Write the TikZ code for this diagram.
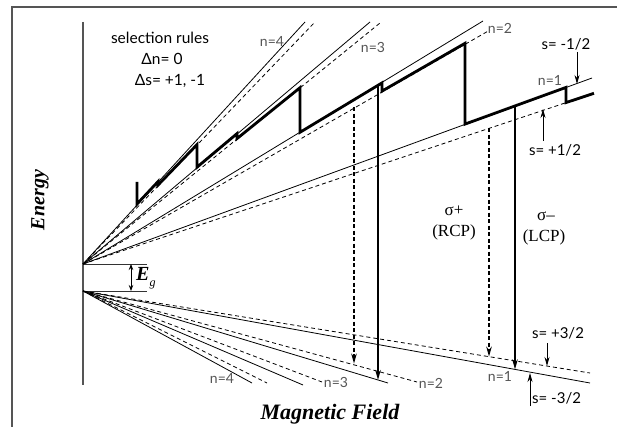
\documentclass[tikz,border=0pt]{standalone}
\usepackage{fontspec}
\setmainfont{Liberation Serif}
\newfontfamily\labfont{Lato}
\usetikzlibrary{arrows.meta}
\definecolor{framegray}{HTML}{555555}
\definecolor{labgray}{HTML}{555555}
\begin{document}
\begin{tikzpicture}[x=1pt,y=-1pt,
  frame/.style={draw=framegray,line width=1.2pt},
  lvl/.style={line width=0.8pt},
  lvldash/.style={line width=0.8pt,dash pattern=on 4pt off 3pt},
  fermi/.style={line width=2.8pt,miter limit=3},
  trans/.style={line width=1.8pt,-{Stealth[length=10pt,width=5.5pt]}},
  transdash/.style={line width=1.8pt,dash pattern=on 4pt off 2.5pt,-{Stealth[length=10pt,width=5.5pt]}},
  pointer/.style={line width=0.8pt,-{Stealth[length=9pt,width=5pt]}},
  rule/.style={font=\labfont\fontsize{15.5}{17}\selectfont,inner sep=0pt},
  nlab/.style={font=\labfont\fontsize{14}{16}\selectfont,text=labgray,inner sep=0pt},
  slab/.style={font=\labfont\fontsize{15}{16}\selectfont,inner sep=0pt},
  pol/.style={font=\fontsize{17}{19}\selectfont,inner sep=0pt},
  axlab/.style={font=\bfseries\itshape\fontsize{20}{22}\selectfont,inner sep=0pt}
]
\useasboundingbox (0,0) rectangle (617,427);
% frame
\draw[frame] (12,427) -- (12,7) -- (617,7);
% energy axis
\coordinate (axtop) at (83,22);
\coordinate (axbot) at (83,385);
\draw[frame] (axtop) -- (axbot);
% band edges
\coordinate (C) at (83,264);
\coordinate (V) at (83,291);
\coordinate (Ce) at (147,264);
\coordinate (Ve) at (147,291);
\draw[line width=1pt,draw=black!80] (C) -- (Ce);
\draw[line width=1pt,draw=black!80] (V) -- (Ve);
\coordinate (gt) at (131,264);
\coordinate (gb) at (131,291);
\draw[line width=0.8pt,{Stealth[length=6pt,width=4.5pt]}-{Stealth[length=6pt,width=4.5pt]}] (gt) -- (gb);
\node[anchor=west,inner sep=0pt,font=\bfseries\itshape\fontsize{20}{22}\selectfont] (Eg) at (136,278)
  {E\raisebox{-6pt}{\mdseries\fontsize{12}{13}\selectfont g}};
% conduction band Landau levels
\coordinate (u1s) at (592,78);
\coordinate (u1d) at (565,103);
\coordinate (u2s) at (483,21);
\coordinate (u2d) at (490,30);
\coordinate (u3s) at (370,22);
\coordinate (u3d) at (380,23);
\coordinate (u4s) at (305,22);
\coordinate (u4d) at (315,22);
\foreach \p in {u1s,u2s,u3s,u4s} \draw[lvl] (C) -- (\p);
\foreach \p in {u1d,u2d,u3d,u4d} \draw[lvldash] (C) -- (\p);
% valence band Landau levels
\coordinate (l1d) at (590,373);
\coordinate (l1s) at (590,383);
\coordinate (l2d) at (417,382);
\coordinate (l2s) at (388,383);
\coordinate (l3d) at (322,382);
\coordinate (l3s) at (303,385);
\coordinate (l4d) at (267,383);
\coordinate (l4s) at (252,383);
\foreach \p in {l1s,l2s,l3s,l4s} \draw[lvl] (V) -- (\p);
\foreach \p in {l1d,l2d,l3d,l4d} \draw[lvldash] (V) -- (\p);
% Fermi level sawtooth
\draw[fermi] (137,182) -- (137,204) -- (158,181.6) -- (158,185.1) -- (197,144.6)
  -- (197,167.2) -- (237,133.6) -- (237,138.6) -- (300,87.7) -- (300,132.3)
  -- (382,82.9) -- (382,91.1) -- (465,43.3) -- (465,124.1) -- (566,87.4)
  -- (566,102.6) -- (594,93.3);
% transitions
\coordinate (t1a) at (354,107.2); \coordinate (t1b) at (354,363.6);
\coordinate (t2a) at (378,85.3);  \coordinate (t2b) at (378,380);
\coordinate (t3a) at (489,128.2); \coordinate (t3b) at (489,356.6);
\coordinate (t4a) at (515,106);   \coordinate (t4b) at (515,369.4);
\draw[transdash] (t1a) -- (t1b);
\draw[trans] (t2a) -- (t2b);
\draw[transdash] (t3a) -- (t3b);
\draw[trans] (t4a) -- (t4b);
% spin pointers
\coordinate (p1a) at (577,52);  \coordinate (p1b) at (577,84);
\coordinate (p2a) at (543,141); \coordinate (p2b) at (543,109);
\coordinate (p3a) at (547,343); \coordinate (p3b) at (547,366);
\coordinate (p4a) at (530,406); \coordinate (p4b) at (530,373);
\draw[pointer] (p1a) -- (p1b);
\draw[pointer] (p2a) -- (p2b);
\draw[pointer] (p3a) -- (p3b);
\draw[pointer] (p4a) -- (p4b);
% texts
\node[rule] (sr) at (160,38) {selection rules};
\node[rule] (dn) at (162,59) {Δn= 0};
\node[rule] (ds) at (170,81) {Δs= +1, -1};
\node[nlab] (un4) at (272,41) {n=4};
\node[nlab] (un3) at (373,47) {n=3};
\node[nlab] (un2) at (500,28) {n=2};
\node[nlab] (un1) at (550,80) {n=1};
\node[nlab] (ln4) at (222,378) {n=4};
\node[nlab] (ln3) at (336,382) {n=3};
\node[nlab] (ln2) at (431,383) {n=2};
\node[nlab] (ln1) at (500,376) {n=1};
\node[slab] (s1) at (566,44) {s= -1/2};
\node[slab] (s2) at (555,150) {s= +1/2};
\node[slab] (s3) at (558,333) {s= +3/2};
\node[slab,anchor=west] (s4) at (532,398) {s= -3/2};
\node[pol] (sp) at (454,211) {σ+};
\node[pol] (rcp) at (454,232) {(RCP)};
\node[pol] (sm) at (546,216) {σ–};
\node[pol] (lcp) at (544,237) {(LCP)};
\node[axlab,rotate=90] (en) at (40,200) {Energy};
\node[axlab,font=\bfseries\itshape\fontsize{22}{24}\selectfont] (mf) at (330,414) {Magnetic Field};
\end{tikzpicture}
\end{document}
